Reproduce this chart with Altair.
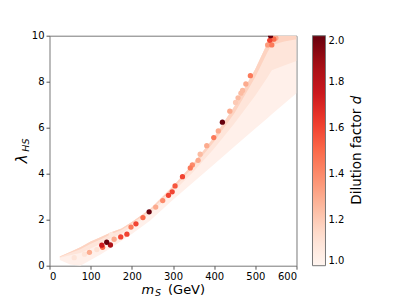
import altair as alt
import pandas as pd

# ---- band (dense pale scan region) boundaries ----
band_m = [25, 50, 75, 100, 125, 150, 175, 200, 244, 300, 350, 400, 450, 500, 530, 540, 570, 600]
band_upper = [0.40, 0.60, 0.80, 1.05, 1.25, 1.45, 1.62, 1.90, 2.45, 3.45, 4.45, 5.60, 6.95, 8.55, 9.70, 10.0, 10.0, 10.0]
band_mid2 = [0.38, 0.55, 0.72, 0.95, 1.15, 1.38, 1.55, 1.83, 2.38, 3.35, 4.30, 5.40, 6.65, 8.20, 9.30, 9.60, 9.75, 9.85]
band_mid1 = [0.35, 0.45, 0.55, 0.75, 0.95, 1.20, 1.40, 1.70, 2.25, 3.20, 4.10, 5.10, 6.20, 7.40, 8.20, 8.50, 8.70, 8.90]
band_lower = [0.25, 0.05, 0.00, 0.25, 0.50, 0.78, 1.08, 1.38, 1.95, 2.87, 3.64, 4.41, 5.19, 5.96, 6.42, 6.58, 7.04, 7.50]

# ---- individual points: mass m_S (GeV), lambda_HS, dilution factor d ----
pt_m = [60, 85, 115, 150, 97, 127, 129, 139, 148, 157, 173, 188, 198, 210, 227, 242, 258, 275,
        289, 298, 305, 323, 342, 347, 361, 366, 382, 399, 410, 420, 438, 452, 458, 465, 469,
        477, 488, 530, 535, 540, 545, 550, 537]
pt_lam = [0.35, 0.50, 0.70, 1.35, 0.58, 0.89, 0.80, 1.02, 0.90, 1.15, 1.25, 1.37, 1.68, 1.82,
          2.09, 2.34, 2.55, 2.83, 3.06, 3.21, 3.47, 3.87, 4.25, 4.38, 4.58, 4.85, 5.22, 5.57,
          5.86, 6.24, 6.72, 7.10, 7.30, 7.50, 7.62, 7.90, 8.26, 9.60, 9.80, 9.60, 9.85, 9.90, 10.0]
pt_d = [1.10, 1.10, 1.12, 1.08, 1.30, 1.75, 1.50, 2.00, 1.85, 1.30, 1.60, 1.60, 1.45, 1.60,
        1.50, 2.00, 1.30, 1.40, 1.60, 1.60, 1.55, 1.60, 1.45, 1.40, 1.30, 1.25, 1.30, 1.45,
        1.30, 2.00, 1.30, 1.20, 1.25, 1.25, 1.25, 1.30, 1.45, 1.35, 1.60, 1.45, 1.50, 1.30, 2.00]

# colour map (Reds) stops and legend ticks
cmap_domain = [1.0, 1.125, 1.25, 1.375, 1.5, 1.625, 1.75, 1.875, 2.0]
cmap_range = ["#fff5f0", "#fee0d2", "#fcbba1", "#fc9272", "#fb6a4a",
              "#ef3b2c", "#cb181d", "#a50f15", "#67000d"]
cbar_ticks = [1.0, 1.2, 1.4, 1.6, 1.8, 2.0]
x_ticks = [0, 100, 200, 300, 400, 500, 600]
y_ticks = [0, 2, 4, 6, 8, 10]

band = pd.DataFrame({"m": band_m, "upper": band_upper, "mid2": band_mid2,
                     "mid1": band_mid1, "lower": band_lower})
pts = pd.DataFrame({"m": pt_m, "lam": pt_lam, "d": pt_d}).sort_values("d")

FONT = "DejaVu Sans"
xs = alt.Scale(domain=[0, 600], nice=False)
ys = alt.Scale(domain=[0, 10], nice=False)
xax = alt.Axis(values=x_ticks, title=None, grid=False)
yax = alt.Axis(values=y_ticks, title=None, grid=False)

base = alt.Chart(band)
a1 = base.mark_area(clip=True, color="#fff0ea").encode(
    x=alt.X("m:Q", scale=xs, axis=xax), y=alt.Y("upper:Q", scale=ys, axis=yax), y2="lower:Q")
a2 = base.mark_area(clip=True, color="#fee5da").encode(
    x=alt.X("m:Q", scale=xs), y=alt.Y("upper:Q", scale=ys), y2="mid1:Q")
a3 = base.mark_area(clip=True, color="#fdd3c1").encode(
    x=alt.X("m:Q", scale=xs), y=alt.Y("upper:Q", scale=ys), y2="mid2:Q")

points = alt.Chart(pts).mark_circle(size=28, opacity=1, clip=True).encode(
    x=alt.X("m:Q", scale=xs),
    y=alt.Y("lam:Q", scale=ys),
    color=alt.Color("d:Q", scale=alt.Scale(domain=cmap_domain, range=cmap_range, interpolate="rgb"),
                    legend=alt.Legend(orient="none", legendX=263, legendY=0, title=None,
                                      direction="vertical", gradientLength=230,
                                      gradientThickness=13, gradientStrokeColor="#777",
                                      gradientStrokeWidth=1, values=cbar_ticks, format=".1f",
                                      labelFont=FONT, labelFontSize=10, labelColor="black",
                                      labelOffset=3, padding=0, offset=0)),
)

def txt(s, x, y, size, style="normal", angle=0):
    return alt.Chart(pd.DataFrame({"t": [s]})).mark_text(
        text=s, font=FONT, fontSize=size, fontStyle=style, angle=angle,
        align="left", baseline="alphabetic", color="black"
    ).encode(x=alt.value(x), y=alt.value(y))

titles = [
    txt("m", 92, 258, 13, "italic"),
    txt("S", 105.5, 260, 9.5, "italic"),
    txt("(GeV)", 118.5, 258, 13),
    txt("λ", -23, 127.5, 15, "italic", 270),
    txt("HS", -21, 116, 9.5, "italic", 270),
    txt("Dilution factor ", 311.5, 169, 13.5, "normal", 270),
    txt("d", 311.5, 68.5, 13.5, "italic", 270),
]

chart = alt.layer(a1, a2, a3, points, *titles).properties(
    width=247, height=230,
    autosize=alt.AutoSizeParams(type="none"),
    padding={"left": 41.5, "top": 27.7, "right": 94, "bottom": 33},
).configure_view(stroke="#777", strokeWidth=1).configure_axis(
    labelFont=FONT, labelFontSize=10, labelColor="black", tickColor="#555",
    tickSize=3.5, domain=False, labelPadding=2
)

chart.save("out.html", embed_options={"renderer": "svg", "actions": False})
